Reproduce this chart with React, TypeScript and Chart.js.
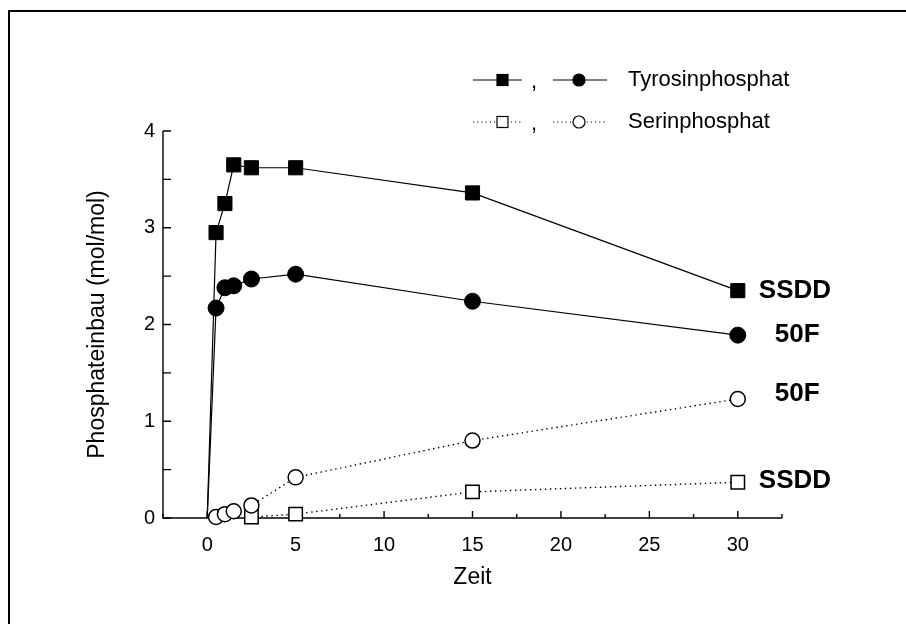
import React, { useEffect, useRef } from "react";
import { Chart, registerables } from "chart.js";

Chart.register(...registerables);

// ---- data ----
const tyrTime = [0, 0.5, 1, 1.5, 2.5, 5, 15, 30];
const tyrSSDD = [0, 2.95, 3.25, 3.65, 3.62, 3.62, 3.36, 2.35];
const tyr50F = [0, 2.17, 2.38, 2.4, 2.47, 2.52, 2.24, 1.89];
const serTime50F = [0.5, 1, 1.5, 2.5, 5, 15, 30];
const ser50F = [0.01, 0.04, 0.07, 0.13, 0.42, 0.8, 1.23];
const serTimeSSDD = [2.5, 5, 15, 30];
const serSSDD = [0.01, 0.04, 0.27, 0.37];
const endLabels = ["SSDD", "50F", "50F", "SSDD"];
const legendLabels = ["Tyrosinphosphat", "Serinphosphat"];
const xTitle = "Zeit";
const yTitle = "Phosphateinbau (mol/mol)";

const FONT = "'Liberation Sans', Arial, Helvetica, sans-serif";

const toPts = (xs: number[], ys: number[]) => xs.map((x, i) => ({ x, y: ys[i] }));

const decorPlugin = {
  id: "decor",
  beforeDraw(chart: any) {
    const ctx = chart.ctx;
    ctx.save();
    ctx.strokeStyle = "#000";
    ctx.lineWidth = 2;
    ctx.beginPath();
    ctx.moveTo(9, 624);
    ctx.lineTo(9, 11);
    ctx.lineTo(906, 11);
    ctx.stroke();
    ctx.restore();
  },
  beforeDatasetsDraw(chart: any) {
    const ctx = chart.ctx;
    const { left, right, top, bottom } = chart.chartArea;
    const xs = chart.scales.x;
    const ys = chart.scales.y;
    ctx.save();
    ctx.strokeStyle = "#000";
    ctx.lineWidth = 1.4;
    ctx.beginPath();
    ctx.moveTo(left, top);
    ctx.lineTo(left, bottom);
    ctx.lineTo(right, bottom);
    ctx.stroke();
    ctx.beginPath();
    ys.ticks.forEach((t: any) => {
      const p = ys.getPixelForValue(t.value);
      ctx.moveTo(left, p);
      ctx.lineTo(left + 8, p);
    });
    xs.ticks.forEach((t: any) => {
      const p = xs.getPixelForValue(t.value);
      const len = Math.abs(t.value % 5) < 1e-9 ? 7 : 4;
      ctx.moveTo(p, bottom);
      ctx.lineTo(p, bottom - len);
    });
    ctx.stroke();
    ctx.restore();
  },
  afterDraw(chart: any) {
    const ctx = chart.ctx;
    ctx.save();
    // end labels
    ctx.fillStyle = "#000";
    ctx.font = `bold 26px ${FONT}`;
    ctx.textBaseline = "middle";
    ctx.textAlign = "left";
    const offs = [
      [21, 0],
      [37, 0],
      [37, -5],
      [21, -1],
    ];
    chart.data.datasets.forEach((ds: any, i: number) => {
      const meta = chart.getDatasetMeta(i);
      const el = meta.data[meta.data.length - 1];
      ctx.fillText(endLabels[i], el.x + offs[i][0], el.y + offs[i][1]);
    });
    // legend
    const rows = [80, 122];
    ctx.lineWidth = 1.2;
    ctx.strokeStyle = "#000";
    rows.forEach((y, r) => {
      const dotted = r === 1;
      ctx.setLineDash(dotted ? [1.2, 3] : []);
      ctx.beginPath();
      ctx.moveTo(473, y);
      ctx.lineTo(522, y);
      ctx.moveTo(553, y);
      ctx.lineTo(607, y);
      ctx.stroke();
      ctx.setLineDash([]);
      // square
      ctx.fillStyle = dotted ? "#fff" : "#000";
      ctx.fillRect(497, y - 5.5, 11, 11);
      ctx.strokeRect(497, y - 5.5, 11, 11);
      // circle
      ctx.beginPath();
      ctx.arc(579, y, 6, 0, Math.PI * 2);
      ctx.fill();
      ctx.stroke();
      ctx.fillStyle = "#000";
      ctx.font = `22px ${FONT}`;
      ctx.textBaseline = "middle";
      ctx.fillText(",", 531, y + 2);
      ctx.fillText(legendLabels[r], 628, y);
    });
    ctx.restore();
  },
};

export default function App() {
  const ref = useRef<HTMLCanvasElement | null>(null);
  useEffect(() => {
    if (!ref.current) return;
    Chart.defaults.color = "#000";
    Chart.defaults.font.family = FONT;
    const chart = new Chart(ref.current, {
      type: "line",
      data: {
        datasets: [
          {
            data: toPts(tyrTime, tyrSSDD),
            borderColor: "#000",
            borderWidth: 1.2,
            pointStyle: "rect",
            pointRadius: tyrTime.map((t) => (t === 0 ? 0 : 10)),
            pointBackgroundColor: "#000",
            pointBorderColor: "#000",
            pointBorderWidth: 1,
            tension: 0,
            clip: false,
          } as any,
          {
            data: toPts(tyrTime, tyr50F),
            borderColor: "#000",
            borderWidth: 1.2,
            pointStyle: "circle",
            pointRadius: tyrTime.map((t) => (t === 0 ? 0 : 8)),
            pointBackgroundColor: "#000",
            pointBorderColor: "#000",
            pointBorderWidth: 1,
            tension: 0,
            clip: false,
          } as any,
          {
            data: toPts(serTime50F, ser50F),
            borderColor: "#000",
            borderWidth: 1.4,
            borderDash: [1.4, 3.6],
            pointStyle: "circle",
            pointRadius: 7.5,
            pointBackgroundColor: "#fff",
            pointBorderColor: "#000",
            pointBorderWidth: 1.5,
            tension: 0,
            clip: false,
          } as any,
          {
            data: toPts(serTimeSSDD, serSSDD),
            borderColor: "#000",
            borderWidth: 1.4,
            borderDash: [1.4, 3.6],
            pointStyle: "rect",
            pointRadius: 9.5,
            pointBackgroundColor: "#fff",
            pointBorderColor: "#000",
            pointBorderWidth: 1.5,
            tension: 0,
            clip: false,
          } as any,
        ],
      },
      options: {
        animation: false,
        responsive: true,
        maintainAspectRatio: false,
        layout: { padding: { top: 131, right: 124, left: 0, bottom: 0 } },
        plugins: { legend: { display: false }, tooltip: { enabled: false } },
        scales: {
          x: {
            type: "linear",
            min: -2.5,
            max: 32.5,
            grid: { display: false, drawTicks: false },
            border: { display: false },
            ticks: {
              stepSize: 2.5,
              autoSkip: false,
              maxRotation: 0,
              padding: 15,
              font: { size: 20, family: FONT },
              color: "#000",
              callback: (v: any) => (Math.abs(Number(v) % 5) < 1e-9 ? String(v) : ""),
            },
            title: {
              display: true,
              text: xTitle,
              font: { size: 23, family: FONT },
              color: "#000",
              padding: { top: 0, bottom: 33 },
            },
            afterFit: (s: any) => {
              s.height = 106;
            },
          },
          y: {
            type: "linear",
            min: 0,
            max: 4,
            grid: { display: false, drawTicks: false },
            border: { display: false },
            ticks: {
              stepSize: 0.5,
              autoSkip: false,
              padding: 8,
              font: { size: 20, family: FONT },
              color: "#000",
              callback: (v: any) => (Number.isInteger(Number(v)) ? String(v) : ""),
            },
            title: {
              display: true,
              text: yTitle,
              font: { size: 23, family: FONT },
              color: "#000",
              padding: { top: 84, bottom: 0 },
            },
            afterFit: (s: any) => {
              s.width = 163;
            },
          },
        },
      } as any,
      plugins: [decorPlugin],
    });
    return () => chart.destroy();
  }, []);
  return (
    <div
      style={{
        position: "fixed",
        left: 0,
        top: 0,
        width: 906,
        height: 624,
        background: "#fff",
      }}
    >
      <canvas ref={ref} style={{ width: "100%", height: "100%" }} />
    </div>
  );
}
